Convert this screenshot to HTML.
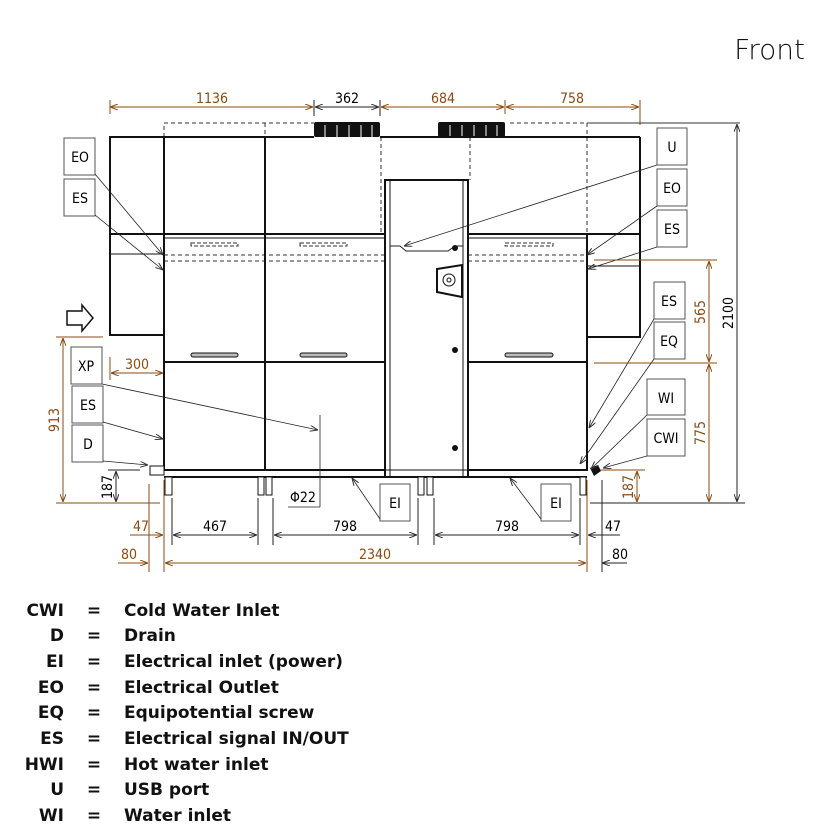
<!DOCTYPE html>
<html><head><meta charset="utf-8"><style>
html,body{margin:0;padding:0;background:#fff;}
svg{display:block;}
.d{font-family:"DejaVu Sans Condensed","Liberation Sans Narrow","Liberation Sans",sans-serif;font-size:14px;}
.br{fill:#8B4A10;}
.lg{font-family:"DejaVu Sans","Liberation Sans",sans-serif;font-weight:bold;font-size:17px;fill:#111;}
</style></head><body>
<svg width="816" height="836" viewBox="0 0 816 836" xmlns="http://www.w3.org/2000/svg">
<defs>
<marker id="a" markerWidth="8" markerHeight="6" refX="8" refY="3" orient="auto-start-reverse" markerUnits="userSpaceOnUse"><path d="M0,0 L8,3 L0,6" fill="none" stroke="#333" stroke-width="1"/></marker>
<marker id="b" markerWidth="8" markerHeight="6" refX="8" refY="3" orient="auto-start-reverse" markerUnits="userSpaceOnUse"><path d="M0,0 L8,3 L0,6" fill="none" stroke="#8B4A10" stroke-width="1"/></marker>
</defs>
<text x="805" y="59" text-anchor="end" font-family="DejaVu Sans,Liberation Sans,sans-serif" font-size="28" font-weight="300" fill="#111">Front</text>

<g stroke="#8B4A10" stroke-width="1" fill="none">
<line x1="110" y1="100" x2="110" y2="114"/><line x1="640" y1="100" x2="640" y2="125"/>
<line x1="505" y1="100" x2="505" y2="114"/>
<line x1="110" y1="107" x2="313" y2="107" marker-start="url(#b)" marker-end="url(#b)"/>
<line x1="381" y1="107" x2="504" y2="107" marker-start="url(#b)" marker-end="url(#b)"/>
<line x1="506" y1="107" x2="639" y2="107" marker-start="url(#b)" marker-end="url(#b)"/>
</g>
<g stroke="#222" stroke-width="1"><line x1="314" y1="100" x2="314" y2="116"/><line x1="380" y1="100" x2="380" y2="116"/>
<line x1="315" y1="107" x2="379" y2="107" marker-start="url(#a)" marker-end="url(#a)"/></g>
<text class="d br" x="212" y="103" text-anchor="middle">1136</text>
<text class="d" x="347" y="103" text-anchor="middle">362</text>
<text class="d br" x="443" y="103" text-anchor="middle">684</text>
<text class="d br" x="572" y="103" text-anchor="middle">758</text>

<rect x="314" y="122" width="66" height="15" rx="2" fill="#111"/>
<rect x="438" y="122" width="67" height="15" rx="2" fill="#111"/>
<g stroke="#fff" stroke-width="1"><line x1="325" y1="125" x2="325" y2="137"/><line x1="337" y1="125" x2="337" y2="137"/><line x1="349" y1="125" x2="349" y2="137"/><line x1="361" y1="125" x2="361" y2="137"/><line x1="372" y1="125" x2="372" y2="137"/>
<line x1="450" y1="125" x2="450" y2="137"/><line x1="462" y1="125" x2="462" y2="137"/><line x1="474" y1="125" x2="474" y2="137"/><line x1="486" y1="125" x2="486" y2="137"/><line x1="497" y1="125" x2="497" y2="137"/></g>

<g stroke="#333" stroke-width="1" stroke-dasharray="4,3" fill="none">
<polyline points="164,137 164,123 314,123"/><line x1="265" y1="123" x2="265" y2="234"/>
<line x1="381" y1="137" x2="381" y2="234"/><line x1="470" y1="137" x2="470" y2="180"/>
<polyline points="510,123 587,123 587,234"/><line x1="587" y1="123" x2="740" y2="123" stroke-dasharray="none"/>
<line x1="164" y1="255" x2="385" y2="255"/><line x1="164" y1="261" x2="385" y2="261"/>
<line x1="468" y1="255" x2="587" y2="255"/><line x1="468" y1="261" x2="587" y2="261"/>
</g>

<g stroke="#111" stroke-width="2" fill="none">
<line x1="110" y1="137" x2="314" y2="137"/><line x1="380" y1="137" x2="640" y2="137"/>
<rect x="110" y="137" width="54" height="198"/>
<line x1="110" y1="234" x2="164" y2="234"/><line x1="110" y1="254" x2="164" y2="254" stroke-width="1"/>
<line x1="164" y1="137" x2="164" y2="470"/>
<line x1="640" y1="137" x2="640" y2="337"/>
<rect x="587" y="234" width="53" height="103"/>
<line x1="587" y1="266" x2="640" y2="266" stroke-width="1"/>
<line x1="265" y1="137" x2="265" y2="470"/>
<rect x="164" y="234" width="221" height="236"/>
<line x1="164" y1="238" x2="385" y2="238" stroke-width="1"/>
<line x1="164" y1="362" x2="385" y2="362"/>
<rect x="468" y="234" width="119" height="236"/>
<line x1="468" y1="238" x2="587" y2="238" stroke-width="1"/>
<line x1="468" y1="362" x2="587" y2="362"/>
<rect x="385" y="180" width="83" height="297"/>
<line x1="390" y1="180" x2="390" y2="477" stroke-width="1"/><line x1="463" y1="180" x2="463" y2="477" stroke-width="1"/>
<line x1="164" y1="477" x2="587" y2="477"/>
<line x1="164" y1="470" x2="587" y2="470" stroke-width="1"/>
<line x1="587" y1="337" x2="587" y2="470"/>
</g>
<polyline points="390,246 400,246 406,251 448,251 455,246 463,246" fill="none" stroke="#222" stroke-width="1"/>
<circle cx="455" cy="248" r="3" fill="#111"/><circle cx="455" cy="350" r="3" fill="#111"/><circle cx="455" cy="448" r="3" fill="#111"/>
<path d="M437,269 L462,265 L462,297 L437,292 Z" fill="#fff" stroke="#111" stroke-width="2"/>
<circle cx="449" cy="280" r="6" fill="none" stroke="#111"/><circle cx="449" cy="280" r="2" fill="none" stroke="#111"/>
<g fill="none" stroke="#333" stroke-width="1">
<rect x="191" y="243" width="47" height="3" stroke-dasharray="4,2"/><rect x="300" y="243" width="47" height="3" stroke-dasharray="4,2"/><rect x="505" y="243" width="48" height="3" stroke-dasharray="4,2"/>
</g>
<g fill="#bbb" stroke="#111" stroke-width="1">
<rect x="191" y="353" width="47" height="4" rx="2"/><rect x="300" y="353" width="47" height="4" rx="2"/><rect x="505" y="353" width="48" height="4" rx="2"/>
</g>
<g fill="#fff" stroke="#111" stroke-width="1">
<rect x="165" y="477" width="7" height="18"/><rect x="258" y="477" width="6" height="18"/><rect x="266" y="477" width="6" height="18"/>
<rect x="418" y="477" width="6" height="18"/><rect x="427" y="477" width="6" height="18"/><rect x="580" y="477" width="6" height="18"/>
</g>
<rect x="150" y="466" width="14" height="9" fill="#fff" stroke="#111"/>
<path d="M590,468 l8,-3 l3,6 l-7,5 z" fill="#111"/>

<path d="M67,311 H82 V305 L93,318 L82,331 V325 H67 Z" fill="#fff" stroke="#111" stroke-width="1.5"/>

<g fill="#fff" stroke="#555" stroke-width="1">
<rect x="64" y="138" width="31" height="37"/><rect x="64" y="179" width="31" height="37"/>
<rect x="71" y="347" width="31" height="37"/><rect x="72" y="386" width="31" height="37"/><rect x="72" y="425" width="31" height="37"/>
<rect x="657" y="128" width="30" height="37"/><rect x="657" y="169" width="30" height="37"/><rect x="657" y="210" width="30" height="37"/>
<rect x="654" y="282" width="31" height="37"/><rect x="654" y="322" width="31" height="37"/>
<rect x="647" y="379" width="38" height="36"/><rect x="647" y="419" width="38" height="37"/>
<rect x="380" y="484" width="30" height="37"/><rect x="541" y="484" width="30" height="37"/>
</g>
<g class="d" text-anchor="middle" font-size="13">
<text x="80" y="162">EO</text><text x="80" y="203">ES</text><text x="86" y="371">XP</text><text x="88" y="410">ES</text><text x="88" y="449">D</text>
<text x="672" y="152">U</text><text x="672" y="193">EO</text><text x="672" y="234">ES</text><text x="669" y="306">ES</text><text x="669" y="346">EQ</text>
<text x="666" y="403">WI</text><text x="666" y="443">CWI</text><text x="395" y="508">EI</text><text x="556" y="508">EI</text>
</g>
<g stroke="#222" stroke-width="0.8" fill="none">
<line x1="95" y1="174" x2="163" y2="255" marker-end="url(#a)"/>
<line x1="95" y1="215" x2="163" y2="270" marker-end="url(#a)"/>
<line x1="102" y1="384" x2="318" y2="430" marker-end="url(#a)"/>
<line x1="103" y1="422" x2="163" y2="439" marker-end="url(#a)"/>
<line x1="103" y1="461" x2="148" y2="465" marker-end="url(#a)"/>
<line x1="657" y1="165" x2="404" y2="246" marker-end="url(#a)"/>
<line x1="657" y1="206" x2="587" y2="255" marker-end="url(#a)"/>
<line x1="657" y1="247" x2="588" y2="269" marker-end="url(#a)"/>
<line x1="654" y1="319" x2="589" y2="428" marker-end="url(#a)"/>
<line x1="654" y1="359" x2="580" y2="464" marker-end="url(#a)"/>
<line x1="647" y1="415" x2="591" y2="469" marker-end="url(#a)"/>
<line x1="647" y1="456" x2="603" y2="468" marker-end="url(#a)"/>
<line x1="380" y1="519" x2="352" y2="478" marker-end="url(#a)"/>
<line x1="541" y1="519" x2="510" y2="478" marker-end="url(#a)"/>
<line x1="320" y1="415" x2="320" y2="507"/><line x1="288" y1="507" x2="320" y2="507"/>
</g>
<text class="d" x="290" y="502">Φ22</text>

<g stroke="#222" stroke-width="1"><line x1="737" y1="124" x2="737" y2="502" marker-start="url(#a)" marker-end="url(#a)"/>
<line x1="590" y1="503" x2="745" y2="503"/></g>
<text class="d" transform="translate(733,313) rotate(-90)" text-anchor="middle">2100</text>
<g stroke="#8B4A10" stroke-width="1">
<line x1="594" y1="260" x2="717" y2="260"/><line x1="594" y1="363" x2="717" y2="363"/>
<line x1="709" y1="261" x2="709" y2="362" marker-start="url(#b)" marker-end="url(#b)"/>
<line x1="709" y1="364" x2="709" y2="502" marker-start="url(#b)" marker-end="url(#b)"/>
<line x1="600" y1="470" x2="645" y2="470"/>
<line x1="637" y1="471" x2="637" y2="502" marker-start="url(#b)" marker-end="url(#b)"/>
</g>
<text class="d br" transform="translate(705,312) rotate(-90)" text-anchor="middle">565</text>
<text class="d br" transform="translate(705,433) rotate(-90)" text-anchor="middle">775</text>
<text class="d br" transform="translate(633,487) rotate(-90)" text-anchor="middle">187</text>

<g stroke="#8B4A10" stroke-width="1">
<line x1="56" y1="337" x2="103" y2="337"/><line x1="56" y1="503" x2="160" y2="503"/>
<line x1="63" y1="338" x2="63" y2="502" marker-start="url(#b)" marker-end="url(#b)"/>
<line x1="110" y1="357" x2="110" y2="380"/>
<line x1="111" y1="373" x2="163" y2="373" marker-start="url(#b)" marker-end="url(#b)"/>
</g>
<text class="d br" x="137" y="369" text-anchor="middle">300</text>
<text class="d br" transform="translate(59,420) rotate(-90)" text-anchor="middle">913</text>
<g stroke="#222" stroke-width="1"><line x1="108" y1="470" x2="140" y2="470"/>
<line x1="116" y1="471" x2="116" y2="502" marker-start="url(#a)" marker-end="url(#a)"/></g>
<text class="d" transform="translate(112,487) rotate(-90)" text-anchor="middle">187</text>

<g stroke="#222" stroke-width="1">
<line x1="172" y1="498" x2="172" y2="545"/><line x1="258" y1="498" x2="258" y2="545"/><line x1="273" y1="498" x2="273" y2="545"/>
<line x1="418" y1="498" x2="418" y2="545"/><line x1="434" y1="498" x2="434" y2="545"/><line x1="580" y1="498" x2="580" y2="545"/>
<line x1="602" y1="480" x2="602" y2="572"/>
<line x1="173" y1="535" x2="257" y2="535" marker-start="url(#a)" marker-end="url(#a)"/>
<line x1="274" y1="535" x2="417" y2="535" marker-start="url(#a)" marker-end="url(#a)"/>
<line x1="435" y1="535" x2="579" y2="535" marker-start="url(#a)" marker-end="url(#a)"/>
<line x1="588" y1="535" x2="620" y2="535" marker-start="url(#a)"/>
<line x1="602" y1="563" x2="627" y2="563" marker-start="url(#a)"/>
</g>
<g stroke="#8B4A10" stroke-width="1">
<line x1="149" y1="484" x2="149" y2="572"/><line x1="164" y1="480" x2="164" y2="572"/><line x1="587" y1="480" x2="587" y2="572"/>
<line x1="130" y1="535" x2="163" y2="535" marker-end="url(#b)"/>
<line x1="118" y1="563" x2="148" y2="563" marker-end="url(#b)"/>
<line x1="165" y1="563" x2="586" y2="563" marker-start="url(#b)" marker-end="url(#b)"/>
</g>
<text class="d" x="215" y="531" text-anchor="middle">467</text>
<text class="d" x="345" y="531" text-anchor="middle">798</text>
<text class="d" x="507" y="531" text-anchor="middle">798</text>
<text class="d" x="613" y="531" text-anchor="middle">47</text>
<text class="d br" x="141" y="531" text-anchor="middle">47</text>
<text class="d br" x="129" y="559" text-anchor="middle">80</text>
<text class="d br" x="375" y="559" text-anchor="middle">2340</text>
<text class="d" x="620" y="559" text-anchor="middle">80</text>

<g class="lg">
<g text-anchor="end">
<text x="64" y="616">CWI</text><text x="64" y="641">D</text><text x="64" y="667">EI</text><text x="64" y="693">EO</text><text x="64" y="718">EQ</text><text x="64" y="744">ES</text><text x="64" y="770">HWI</text><text x="64" y="795">U</text><text x="64" y="821">WI</text>
</g>
<g text-anchor="middle">
<text x="94" y="616">=</text><text x="94" y="641">=</text><text x="94" y="667">=</text><text x="94" y="693">=</text><text x="94" y="718">=</text><text x="94" y="744">=</text><text x="94" y="770">=</text><text x="94" y="795">=</text><text x="94" y="821">=</text>
</g>
<text x="124" y="616">Cold Water Inlet</text><text x="124" y="641">Drain</text><text x="124" y="667">Electrical inlet (power)</text><text x="124" y="693">Electrical Outlet</text><text x="124" y="718">Equipotential screw</text><text x="124" y="744">Electrical signal IN/OUT</text><text x="124" y="770">Hot water inlet</text><text x="124" y="795">USB port</text><text x="124" y="821">Water inlet</text>
</g>
</svg>
</body></html>
